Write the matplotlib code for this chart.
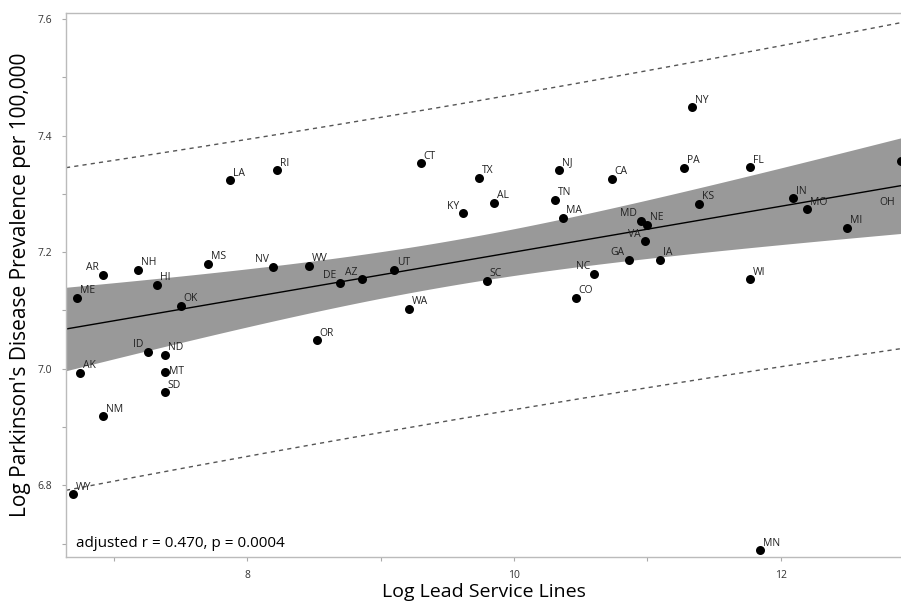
import numpy as np
import matplotlib
matplotlib.use("Agg")
import matplotlib.pyplot as plt

states = ["WY","AK","ME","AR","NM","NH","HI","ID","ND","MT","SD","OK","MS","LA","RI",
          "NV","WV","DE","AZ","OR","UT","WA","CT","TX","KY","AL","SC","NJ","TN","MA",
          "CO","NC","CA","GA","VA","IA","MD","NE","NY","PA","KS","FL","WI","IN","MO",
          "MI","OH","MN"]
log_lead = [6.697, 6.749, 6.727, 6.921, 6.921, 7.184, 7.326, 7.258, 7.386, 7.386, 7.386,
            7.506, 7.708, 7.873, 8.225, 8.195, 8.464, 8.697, 8.861, 8.524, 9.101, 9.213,
            9.303, 9.738, 9.618, 9.850, 9.798, 10.337, 10.307, 10.367, 10.464, 10.599,
            10.734, 10.861, 10.981, 11.094, 10.951, 10.996, 11.333, 11.273, 11.386,
            11.768, 11.768, 12.090, 12.195, 12.494, 12.899, 11.843]
log_pd = [6.785, 6.993, 7.122, 7.161, 6.919, 7.170, 7.144, 7.029, 7.024, 6.995, 6.960,
          7.108, 7.180, 7.324, 7.341, 7.175, 7.177, 7.148, 7.154, 7.049, 7.170, 7.103,
          7.353, 7.328, 7.267, 7.285, 7.151, 7.341, 7.290, 7.259, 7.122, 7.163,
          7.326, 7.187, 7.219, 7.187, 7.254, 7.247, 7.449, 7.345, 7.283,
          7.346, 7.154, 7.293, 7.274, 7.242, 7.357, 6.689]
annotation = "adjusted r = 0.470, p = 0.0004"
x_label = "Log Lead Service Lines"
y_label = "Log Parkinson's Disease Prevalence per 100,000"
x_ticks = [7, 8, 9, 10, 11, 12]
x_ticklabels = ["", "8", "", "10", "", "12"]
y_ticks = [6.7, 6.8, 6.9, 7.0, 7.1, 7.2, 7.3, 7.4, 7.5, 7.6]
y_ticklabels = ["", "6.8", "", "7.0", "", "7.2", "", "7.4", "", "7.6"]

# label placement (style only)
left_labels = {"AR", "NV", "DE", "AZ", "ID", "KY", "NC", "GA", "MD", "VA"}

x = np.array(log_lead)
y = np.array(log_pd)
n = len(x)
b1, b0 = np.polyfit(x, y, 1)
resid = y - (b0 + b1 * x)
s = np.sqrt(np.sum(resid ** 2) / (n - 2))
xbar = x.mean()
sxx = np.sum((x - xbar) ** 2)
tq = 2.0106

xlim = (6.644, 12.899)
ylim = (6.677, 7.611)
xs = np.linspace(xlim[0], xlim[1], 200)
yfit = b0 + b1 * xs
se_mean = s * np.sqrt(1.0 / n + (xs - xbar) ** 2 / sxx)
se_pred = s * np.sqrt(1 + 1.0 / n + (xs - xbar) ** 2 / sxx)

plt.rcParams['font.family'] = ['Open Sans', 'DejaVu Sans']
fig = plt.figure(figsize=(9.01, 6.03), dpi=100)
ax = fig.add_axes([66 / 901, 46 / 603, 835 / 901, 544.3 / 603])

ax.fill_between(xs, yfit - tq * se_mean, yfit + tq * se_mean, color="#999999", lw=0, zorder=1)
ax.plot(xs, yfit, color="black", lw=1.0, zorder=2)
ax.plot(xs, yfit + tq * se_pred, color="#555555", lw=1.0, ls=(0, (3, 3)), zorder=2)
ax.plot(xs, yfit - tq * se_pred, color="#555555", lw=1.0, ls=(0, (3, 3)), zorder=2)
ax.scatter(x, y, s=42, color="black", zorder=3, clip_on=False, lw=0)

for st, xi, yi in zip(states, x, y):
    if st in left_labels:
        off, ha = (-3, 5), "right"
    elif st == "OH":
        off, ha = (-4, -30), "right"
    elif st == "MT":
        off, ha = (3, 0), "left"
    else:
        off, ha = (2, 5), "left"
    ax.annotate(st, (xi, yi), xytext=off, textcoords="offset points", ha=ha, va="center",
                fontsize=7.5, color="#222222", zorder=4)

ax.text(0.012, 0.025, annotation, transform=ax.transAxes, fontsize=11, ha="left",
        va="center", color="black")

ax.set_xlim(*xlim)
ax.set_ylim(*ylim)
ax.set_xticks(x_ticks)
ax.set_xticklabels(x_ticklabels)
ax.set_yticks(y_ticks)
ax.set_yticklabels(y_ticklabels)
ax.tick_params(axis="both", direction="out", length=3, width=0.8, color="#aaaaaa",
               labelsize=7.5, labelcolor="#333333", pad=7)
ax.tick_params(axis="x", pad=6)
for side in ["left", "bottom", "top", "right"]:
    ax.spines[side].set_color("#bbbbbb")
    ax.spines[side].set_linewidth(1.0)
ax.spines["right"].set_visible(False)

ax.set_xlabel(x_label, fontsize=14, labelpad=2)
ax.set_ylabel(y_label, fontsize=15, labelpad=5)

fig.savefig("out.png", dpi=100)
